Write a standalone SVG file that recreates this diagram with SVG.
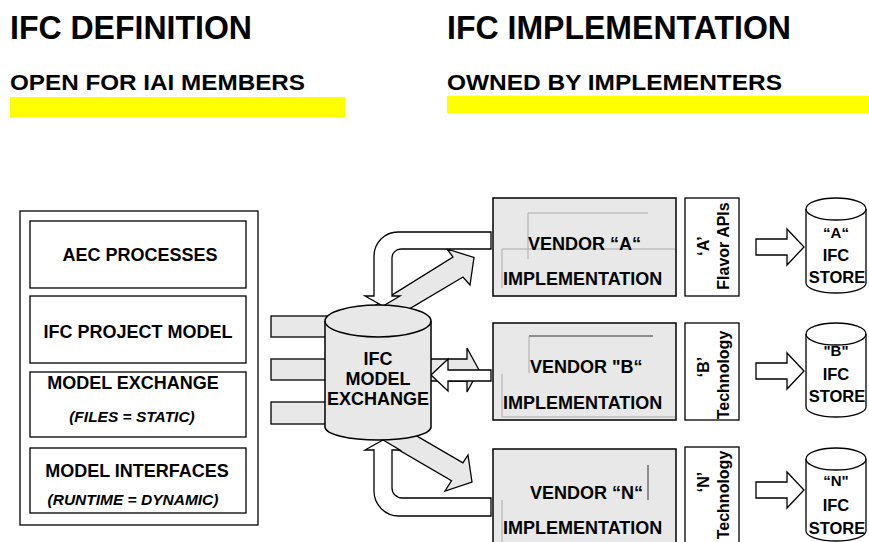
<svg xmlns="http://www.w3.org/2000/svg" width="869" height="542" viewBox="0 0 869 542">
<style>
text{font-family:"Liberation Sans",Arial,Helvetica,sans-serif;font-weight:bold;fill:#000}
.box{fill:#fff;stroke:#000;stroke-width:1.3}
.gbox{fill:#e8e8e8;stroke:#000;stroke-width:1.5}
.arr{fill:#fff;stroke:#000;stroke-width:1.3}
.garr{fill:#e8e8e8;stroke:#000;stroke-width:1.3}
.thin{stroke:#aaa;stroke-width:1;fill:none}
.dark{stroke:#333;stroke-width:1;fill:none}
.t18{font-size:18px}
.t15{font-size:15px}
.t16{font-size:16px}
.st{font-size:16.5px}
.it{font-style:italic;font-size:15.5px}
.c{text-anchor:middle}
.cyl{fill:#e8e8e8;stroke:#000;stroke-width:1.5}
.store{fill:#fff;stroke:#000;stroke-width:1.3}
</style>

<g id="headers">
  <text x="10" y="39" font-size="34" textLength="242" lengthAdjust="spacingAndGlyphs">IFC DEFINITION</text>
  <text x="447" y="39" font-size="34" textLength="344" lengthAdjust="spacingAndGlyphs">IFC IMPLEMENTATION</text>
  <text x="10" y="90" font-size="22" textLength="295" lengthAdjust="spacingAndGlyphs">OPEN FOR IAI MEMBERS</text>
  <text x="447" y="90" font-size="22" textLength="335" lengthAdjust="spacingAndGlyphs">OWNED BY IMPLEMENTERS</text>
  <rect x="10" y="97" width="335" height="20" fill="#ffff00"/>
  <rect x="447" y="96" width="422" height="17" fill="#ffff00"/>
</g>

<g id="connectors">
  <rect class="garr" x="271" y="316" width="70" height="21"/>
  <rect class="garr" x="271" y="359" width="70" height="21"/>
  <rect class="garr" x="271" y="402" width="70" height="22"/>
  <polygon class="garr" points="375,305.6 453,257 447,249 474,257.5 470,285 463,277 393,318.6"/>
  <polygon class="garr" points="393.4,422.4 462.9,462.9 468,455 472,482 445,491 451.5,480.8 367.7,431.9"/>
  <path class="arr" d="M491,232 L398,232 A24,24 0 0 0 374,256 L374,296 L365,296 L383,306 L400,296 L392,296 L392,258 A9,9 0 0 1 401,249 L491,249 Z"/>
  <path class="arr" d="M491,516 L399,516 A25,25 0 0 1 374,491 L374,450 L365,450 L383,440 L400,450 L392,450 L392,488 A10,10 0 0 0 402,498 L491,498 Z"/>
  <polygon class="garr" points="420,359 467,359 467,348 479,370 467,392 467,381 420,381"/>
  <polygon class="arr" points="431,375 448,359 448,370 491,370 491,381 448,381 448,391"/>
  <polygon class="arr" points="756,239 787,239 787,229 804,247 787,265 787,255 756,255"/>
  <polygon class="arr" points="756,363 787,363 787,353 804,371 787,389 787,379 756,379"/>
  <polygon class="arr" points="756,482 787,482 787,472 804,490 787,508 787,498 756,498"/>
</g>

<g id="ifc-definition">
  <rect class="box" x="20" y="211" width="238" height="314"/>
</g>
<g id="aec-processes">
  <rect class="box" x="30" y="221" width="216" height="67"/>
  <text class="t18 c" x="140" y="261">AEC PROCESSES</text>
</g>
<g id="ifc-project-model">
  <rect class="box" x="30" y="296" width="216" height="67"/>
  <text class="t18 c" x="138" y="338">IFC PROJECT MODEL</text>
</g>
<g id="model-exchange-def">
  <rect class="box" x="30" y="372" width="216" height="65"/>
  <text class="t18 c" x="133" y="389">MODEL EXCHANGE</text>
  <text class="it c" x="132" y="422">(FILES = STATIC)</text>
</g>
<g id="model-interfaces">
  <rect class="box" x="30" y="448" width="216" height="65"/>
  <text class="t18 c" x="137" y="477">MODEL INTERFACES</text>
  <text class="it c" x="133" y="505">(RUNTIME = DYNAMIC)</text>
</g>

<g id="ifc-model-exchange">
  <path class="cyl" d="M325,321 A53,16 0 0 1 431,321 L431,427 A53,13 0 0 1 325,427 Z"/>
  <path fill="none" stroke="#000" stroke-width="1.5" d="M325,321 A53,16 0 0 0 431,321"/>
  <text class="t18 c" x="378" y="365">IFC</text>
  <text class="t18 c" x="378" y="385">MODEL</text>
  <text class="t18 c" x="378" y="405">EXCHANGE</text>
</g>

<g id="vendor-a">
  <rect class="gbox" x="493" y="198" width="183" height="98"/>
  <path class="thin" d="M528,259 L528,213 L648,213 M502,288 L502,249 L675,249"/>
  <text class="t18" x="528" y="250">VENDOR “A“</text>
  <text class="t18" x="503" y="285">IMPLEMENTATION</text>
</g>
<g id="vendor-b">
  <rect class="gbox" x="493" y="323" width="183" height="97"/>
  <path class="dark" d="M529,336 L653,336"/>
  <path class="thin" d="M529,336 L529,373 M502,374 L502,417 L675,417"/>
  <text class="t18" x="530" y="373">VENDOR "B“</text>
  <text class="t18" x="503" y="409">IMPLEMENTATION</text>
</g>
<g id="vendor-n">
  <rect class="gbox" x="493" y="449" width="183" height="96"/>
  <path class="dark" d="M648,465 L648,500"/>
  <path class="thin" d="M502,500 L502,542"/>
  <text class="t18" x="530" y="499">VENDOR “N“</text>
  <text class="t18" x="503" y="534">IMPLEMENTATION</text>
</g>

<g id="tech-a">
  <rect class="box" x="685" y="198" width="54" height="98"/>
  <text class="t16 c" transform="translate(709,246) rotate(-90)">‘A’</text>
  <text class="t16 c" transform="translate(729,246) rotate(-90)">Flavor APIs</text>
</g>
<g id="tech-b">
  <rect class="box" x="685" y="323" width="54" height="97"/>
  <text class="t16 c" transform="translate(709,367) rotate(-90)">‘B’</text>
  <text class="t16 c" transform="translate(729,375) rotate(-90)">Technology</text>
</g>
<g id="tech-n">
  <rect class="box" x="685" y="447" width="54" height="98"/>
  <text class="t16 c" transform="translate(709,482) rotate(-90)">‘N’</text>
  <text class="t16 c" transform="translate(729,495) rotate(-90)">Technology</text>
</g>

<g id="store-a">
  <path class="store" d="M806,209 A30,11 0 0 1 866,209 L866,283 A30,10 0 0 1 806,283 Z"/>
  <path fill="none" stroke="#000" stroke-width="1.3" d="M806,209 A30,11 0 0 0 866,209"/>
  <text class="t15 c" x="836" y="238">“A“</text>
  <text class="st c" x="836" y="261">IFC</text>
  <text class="st c" x="837" y="283">STORE</text>
</g>
<g id="store-b">
  <path class="store" d="M806,334 A30,11 0 0 1 866,334 L866,407 A30,10 0 0 1 806,407 Z"/>
  <path fill="none" stroke="#000" stroke-width="1.3" d="M806,334 A30,11 0 0 0 866,334"/>
  <text class="t15 c" x="836" y="356">"B"</text>
  <text class="st c" x="836" y="380">IFC</text>
  <text class="st c" x="837" y="402">STORE</text>
</g>
<g id="store-n">
  <path class="store" d="M806,459 A30,11 0 0 1 866,459 L866,531 A30,10 0 0 1 806,531 Z"/>
  <path fill="none" stroke="#000" stroke-width="1.3" d="M806,459 A30,11 0 0 0 866,459"/>
  <text class="t15 c" x="836" y="486">“N"</text>
  <text class="st c" x="836" y="511">IFC</text>
  <text class="st c" x="837" y="534">STORE</text>
</g>
</svg>
